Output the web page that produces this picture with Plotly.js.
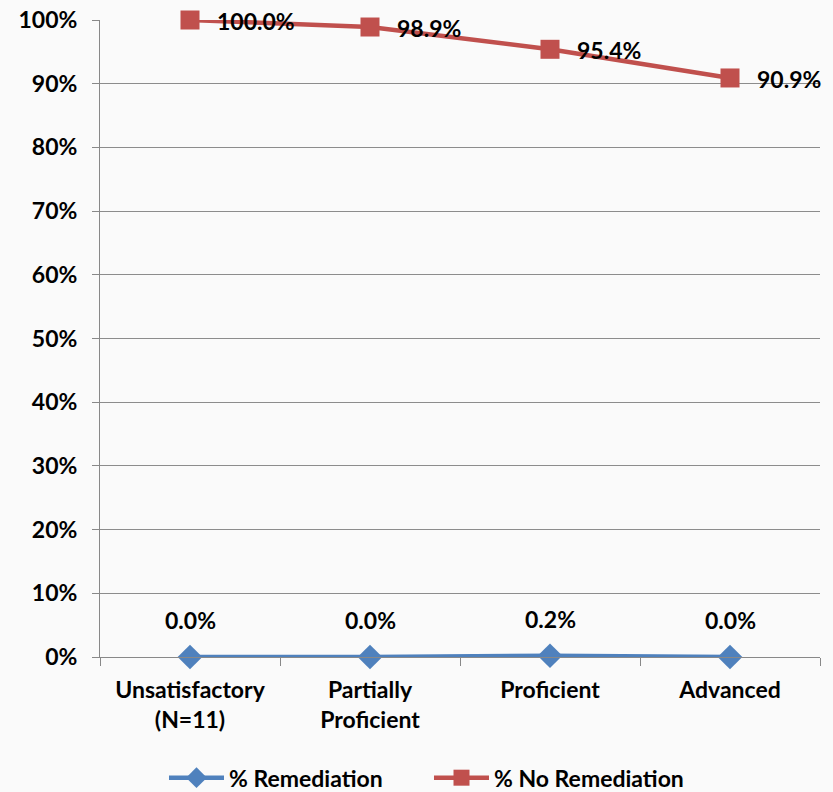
<!DOCTYPE html>
<html>
<head>
<meta charset="utf-8">
<script src="https://cdn.plot.ly/plotly-3.0.1.min.js"></script>
<style>html,body{margin:0;padding:0;background:#fafafa;}</style>
</head>
<body>
<div id="chart" style="width:833px;height:792px;"></div>
<script>
const categories = ["Unsatisfactory (N=11)", "Partially Proficient", "Proficient", "Advanced"];
const tickLabels = ["Unsatisfactory<br>(N=11)", "Partially<br>Proficient", "Proficient", "Advanced"];
const remediation = [0.000, 0.000, 0.002, 0.000];
const noRemediation = [1.000, 0.989, 0.954, 0.909];
const yTickVals = [0, 0.1, 0.2, 0.3, 0.4, 0.5, 0.6, 0.7, 0.8, 0.9, 1.0];
const yTickText = ["0%", "10%", "20%", "30%", "40%", "50%", "60%", "70%", "80%", "90%", "100%"];

const fmt = v => (v * 100).toFixed(1) + "%";
const FONT = "Lato, 'Open Sans', sans-serif";
const FS = 23;

const traces = [
  {
    x: categories, y: remediation, name: "% Remediation",
    type: "scatter", mode: "lines+markers",
    line: {color: "#4F81BD", width: 4.5},
    marker: {symbol: "diamond", size: 19, color: "#4F81BD"},
    cliponaxis: false
  },
  {
    x: categories, y: noRemediation, name: "% No Remediation",
    type: "scatter", mode: "lines+markers",
    line: {color: "#C0504D", width: 4.5},
    marker: {symbol: "square", size: 19, color: "#C0504D"},
    cliponaxis: false
  }
];

const blueLabels = categories.map((c, i) => ({
  x: c, y: remediation[i], xref: "x", yref: "y",
  text: "<b>" + fmt(remediation[i]) + "</b>",
  showarrow: false, yshift: 37,
  font: {family: FONT, size: FS, color: "#000"}
}));
const redLabels = categories.map((c, i) => ({
  x: c, y: noRemediation[i], xref: "x", yref: "y",
  text: "<b>" + fmt(noRemediation[i]) + "</b>",
  showarrow: false, xanchor: "left", xshift: 25, yshift: -1,
  font: {family: FONT, size: FS, color: "#000"}
}));

const layout = {
  width: 833, height: 792,
  margin: {l: 100, r: 13, t: 20, b: 135},
  paper_bgcolor: "#fafafa",
  plot_bgcolor: "rgba(0,0,0,0)",
  font: {family: FONT, size: FS, color: "#000"},
  showlegend: true,
  legend: {
    orientation: "h", x: 0.515, xanchor: "center", xref: "container",
    y: 0.018, yanchor: "middle", yref: "container",
    font: {family: FONT, size: FS, color: "#000", weight: "bold"},
    itemwidth: 55, entrywidth: 195, entrywidthmode: "pixels",
    traceorder: "normal", bgcolor: "rgba(0,0,0,0)"
  },
  xaxis: {
    type: "category", automargin: false,
    tickvals: categories, ticktext: tickLabels,
    tickfont: {family: FONT, size: FS, color: "#000", weight: "bold"},
    showgrid: false, zeroline: false,
    showline: true, linecolor: "#888", linewidth: 1,
    ticks: "outside", tickson: "boundaries", ticklen: 8, tickcolor: "#888",
    ticklabelstandoff: 12,
    range: [-0.5, 3.5], fixedrange: true
  },
  yaxis: {
    range: [0, 1], tickvals: yTickVals, ticktext: yTickText, automargin: false,
    tickfont: {family: FONT, size: FS, color: "#000", weight: "bold"},
    showgrid: true, gridcolor: "#8c8c8c", gridwidth: 1,
    zeroline: false, showline: true, linecolor: "#888", linewidth: 1,
    ticks: "outside", ticklen: 7, tickcolor: "#888", ticklabelstandoff: 10
  },
  annotations: blueLabels.concat(redLabels)
};

Plotly.newPlot("chart", traces, layout, {displayModeBar: false, staticPlot: true});
</script>
</body>
</html>
